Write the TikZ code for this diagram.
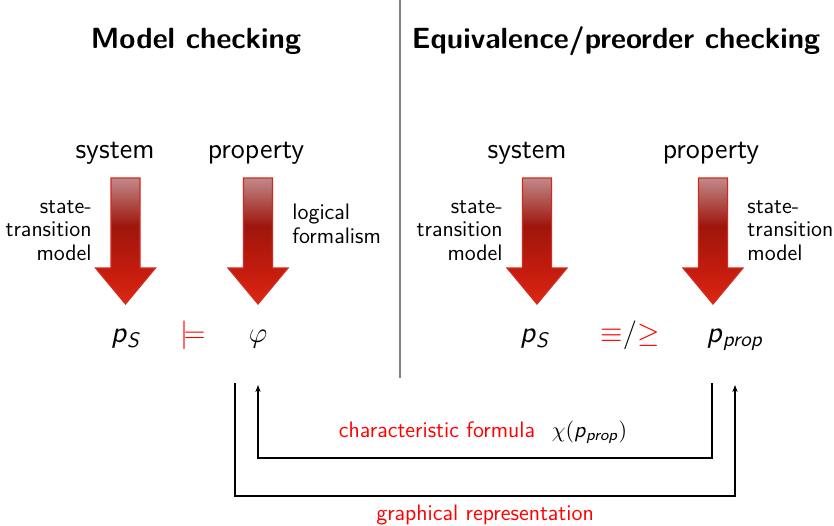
\documentclass[tikz,border=0pt]{standalone}
\usepackage{amsmath}
\usepackage{amssymb}
\usepackage{xcolor}
\usepackage{tikz}
\usetikzlibrary{arrows.meta, positioning, calc}

\definecolor{arrowtop}{RGB}{192,138,138}
\definecolor{arrowdark}{RGB}{158,22,12}
\definecolor{arrowhead}{RGB}{196,28,14}
\definecolor{arrowtip}{RGB}{220,40,20}
\definecolor{arrowedge}{RGB}{214,40,30}
\definecolor{divider}{RGB}{130,130,130}

\pgfdeclareverticalshading{redarrow}{100bp}{color(0bp)=(arrowtip); color(25bp)=(arrowtip); color(38bp)=(arrowhead); color(56bp)=(arrowdark); color(75bp)=(arrowtop); color(100bp)=(arrowtop)}

\newcommand{\pvar}[1]{\textit{#1}}

\tikzset{
  heading/.style={font=\fontsize{14.6}{17}\selectfont\sffamily\bfseries, anchor=base, inner sep=0pt},
  role/.style={font=\fontsize{14.3}{17}\selectfont\sffamily, anchor=base, inner sep=0pt},
  sidetext/.style={font=\fontsize{11.2}{11.75}\selectfont\sffamily, inner sep=0pt},
  term/.style={font=\fontsize{15}{18}\selectfont\sffamily, anchor=base, inner sep=0pt},
  link/.style={black, line width=0.6pt, >={Stealth[length=3.5pt, width=2.6pt]}},
}

\begin{document}
\begin{tikzpicture}[x=0.5pt, y=-0.5pt]
\useasboundingbox (0,0) rectangle (834,525);

% titles and divider
\node[heading] (mctitle) at (196,48) {Model checking};
\node[heading] (eqtitle) at (616,48) {Equivalence/preorder checking};
\draw[divider, line width=0.6pt] (400,0) -- (400,378);

% what goes in
\node[role] (sys1) at (115,158) {system};
\node[role] (prop1) at (256,158) {property};
\node[role] (sys2) at (527,158) {system};
\node[role] (prop2) at (711,158) {property};

% big shaded arrows
\foreach \ax in {125.5,258,537,713}
  \shade[shading=redarrow, draw=arrowedge, line width=0.6pt]
    ({\ax-14.5},178) -- ({\ax+14.5},178) -- ({\ax+14.5},268) -- ({\ax+30},268)
    -- (\ax,304) -- ({\ax-30},268) -- ({\ax-14.5},268) -- cycle;

% last line sits on the anchor
\node[sidetext, align=right, anchor=base east] (stm1) at (92,260) {state-\\transition\\model};
\node[sidetext, align=left, anchor=base west] (logic) at (292,243) {logical\\formalism};
\node[sidetext, align=right, anchor=base east] (stm2) at (503,260) {state-\\transition\\model};
\node[sidetext, align=left, anchor=base west] (stm3) at (747,260) {state-\\transition\\model};

% what comes out
\node[term] (ps1) at (126,342) {\pvar{p}\textsubscript{\pvar{S}}};
\node[term, red] (models) at (193,342) {$\models$};
\node[term] (phi) at (258,342) {$\varphi$};
\node[term] (ps2) at (535,342) {\pvar{p}\textsubscript{\pvar{S}}};
\node[term] (rel) at (630,342) {\textcolor{red}{$\equiv$}$/$\textcolor{red}{$\geq$}};
\node[term] (pprop) at (735,342) {\pvar{p}\textsubscript{\pvar{prop}}};

% translations between the two
\coordinate (tips) at (0,385);
\coordinate (cfstart) at (712,383);
\coordinate (grstart) at (235,383);
\draw[link, ->] (cfstart) -- ++(0,75) -| (phi |- tips);
\draw[link, ->] (grstart) -- ++(0,113) -| (pprop |- tips);

\node[sidetext, red, anchor=base] (cflabel) at (437,437) {characteristic formula};
\node[sidetext, anchor=base west] (chi) at ($(cflabel.base east)+(16,0)$) {$\chi($\pvar{p}\textsubscript{\pvar{prop}}$)$};
\node[sidetext, red, anchor=base] (grlabel) at (485,520) {graphical representation};
\end{tikzpicture}
\end{document}
